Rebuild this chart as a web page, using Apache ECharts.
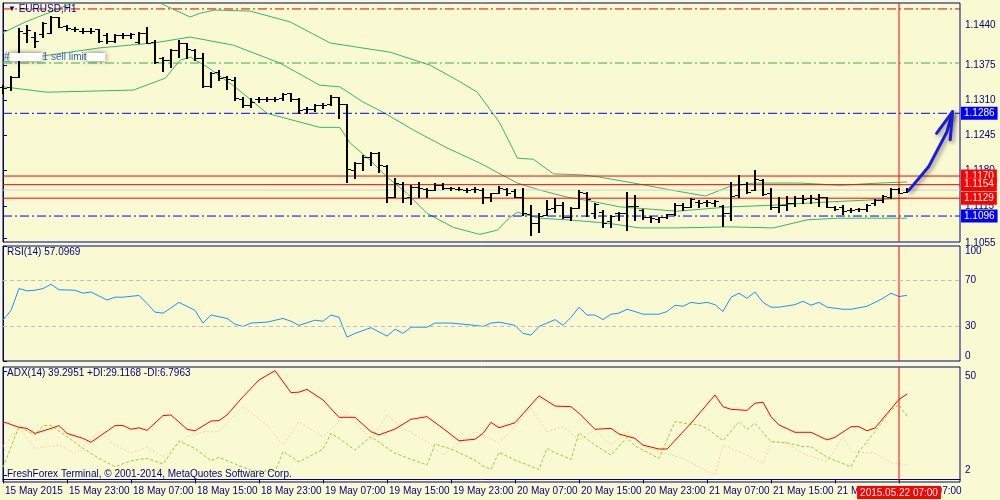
<!DOCTYPE html>
<html>
<head>
<meta charset="utf-8">
<title>EURUSD,H1</title>
<script src="https://cdn.jsdelivr.net/npm/echarts@6/dist/echarts.min.js"></script>
<style>
  html, body { margin: 0; padding: 0; background: #fafad2; }
  #chart { width: 1000px; height: 500px; }
</style>
</head>
<body>
<div id="chart"></div>
<script>
// values (H1 bars, 15 May 15:00 .. 22 May 08:00)
const xTickBars = [0, 8, 16, 24, 32, 40, 48, 56, 64, 72, 80, 88, 96, 104, 112];
const xTickLabels = ['15 May 2015', '15 May 23:00', '18 May 07:00', '18 May 15:00', '18 May 23:00',
  '19 May 07:00', '19 May 15:00', '19 May 23:00', '20 May 07:00', '20 May 15:00', '20 May 23:00',
  '21 May 07:00', '21 May 15:00', '21 May 23:00', '22 May 07:00'];
const priceTicks = [1.1440, 1.1375, 1.1310, 1.1245, 1.1180, 1.1115, 1.1055];
const rsiTicks = [0, 30, 70, 100];
const adxTicks = [2, 50];

const barOpen = [1.1335,1.1335,1.1353,1.1434,1.1427,1.1433,1.1434,1.1464,1.1447,1.1442,
  1.1438,1.1438,1.1442,1.1431,1.1420,1.1431,1.1431,1.1418,1.1434,1.1418,
  1.1388,1.1384,1.1403,1.1416,1.1403,1.1388,1.1336,1.1362,1.1353,1.1348,
  1.1312,1.1301,1.1312,1.1312,1.1313,1.1314,1.1323,1.1312,1.1294,1.1294,
  1.1301,1.1303,1.1316,1.1303,1.1181,1.1194,1.1205,1.1213,1.1188,1.1131,
  1.1155,1.1131,1.1150,1.1146,1.1144,1.1153,1.1148,1.1146,1.1144,1.1146,
  1.1144,1.1131,1.1139,1.1146,1.1142,1.1131,1.1100,1.1083,1.1098,1.1111,
  1.1116,1.1094,1.1111,1.1138,1.1101,1.1103,1.1087,1.1101,1.1101,1.1114,
  1.1107,1.1094,1.1090,1.1094,1.1100,1.1116,1.1113,1.1122,1.1122,1.1120,
  1.1114,1.1101,1.1135,1.1155,1.1144,1.1162,1.1138,1.1113,1.1116,1.1120,
  1.1129,1.1129,1.1127,1.1131,1.1113,1.1113,1.1107,1.1109,1.1109,1.1120,
  1.1126,1.1131,1.1146,1.1140];
const barHigh = [1.1338,1.1355,1.1444,1.1449,1.1436,1.1455,1.1466,1.1464,1.1449,1.1446,
  1.1444,1.1444,1.1442,1.1434,1.1433,1.1434,1.1434,1.1436,1.1446,1.1422,
  1.1390,1.1405,1.1422,1.1416,1.1405,1.1397,1.1362,1.1366,1.1355,1.1353,
  1.1316,1.1314,1.1316,1.1316,1.1316,1.1323,1.1323,1.1314,1.1298,1.1303,
  1.1305,1.1320,1.1316,1.1303,1.1196,1.1209,1.1214,1.1214,1.1190,1.1166,
  1.1159,1.1153,1.1159,1.1148,1.1157,1.1157,1.1150,1.1150,1.1148,1.1150,
  1.1148,1.1139,1.1151,1.1148,1.1146,1.1148,1.1116,1.1101,1.1126,1.1129,
  1.1122,1.1113,1.1144,1.1140,1.1120,1.1107,1.1098,1.1103,1.1140,1.1135,
  1.1109,1.1096,1.1094,1.1100,1.1120,1.1120,1.1129,1.1126,1.1126,1.1126,
  1.1116,1.1159,1.1172,1.1159,1.1181,1.1164,1.1148,1.1131,1.1133,1.1133,
  1.1135,1.1135,1.1137,1.1131,1.1114,1.1116,1.1111,1.1111,1.1118,1.1127,
  1.1135,1.1148,1.1148,1.1148];
const barLow = [1.1324,1.1329,1.1353,1.1418,1.1409,1.1427,1.1434,1.1446,1.1440,1.1438,
  1.1434,1.1434,1.1418,1.1416,1.1418,1.1425,1.1425,1.1416,1.1416,1.1379,
  1.1364,1.1372,1.1390,1.1388,1.1384,1.1335,1.1335,1.1348,1.1331,1.1311,
  1.1298,1.1298,1.1307,1.1309,1.1309,1.1310,1.1309,1.1286,1.1286,1.1290,
  1.1296,1.1301,1.1277,1.1159,1.1166,1.1181,1.1190,1.1177,1.1122,1.1131,
  1.1122,1.1118,1.1131,1.1131,1.1144,1.1146,1.1144,1.1144,1.1140,1.1140,
  1.1120,1.1124,1.1139,1.1135,1.1131,1.1098,1.1061,1.1066,1.1098,1.1103,
  1.1092,1.1089,1.1111,1.1096,1.1092,1.1076,1.1076,1.1089,1.1070,1.1089,
  1.1090,1.1085,1.1085,1.1092,1.1098,1.1107,1.1113,1.1113,1.1114,1.1114,
  1.1077,1.1089,1.1131,1.1138,1.1144,1.1135,1.1109,1.1103,1.1107,1.1114,
  1.1120,1.1120,1.1114,1.1113,1.1107,1.1100,1.1103,1.1105,1.1105,1.1116,
  1.1122,1.1129,1.1139,1.1140];
const barClose = [1.1333,1.1353,1.1438,1.1440,1.1420,1.1453,1.1464,1.1446,1.1444,1.1442,
  1.1438,1.1439,1.1420,1.1420,1.1431,1.1431,1.1433,1.1434,1.1416,1.1381,
  1.1384,1.1403,1.1416,1.1405,1.1388,1.1336,1.1360,1.1351,1.1349,1.1314,
  1.1301,1.1307,1.1312,1.1313,1.1313,1.1322,1.1312,1.1292,1.1294,1.1301,
  1.1301,1.1316,1.1303,1.1183,1.1194,1.1205,1.1213,1.1190,1.1131,1.1157,
  1.1129,1.1150,1.1148,1.1144,1.1153,1.1148,1.1148,1.1146,1.1144,1.1146,
  1.1131,1.1139,1.1148,1.1139,1.1131,1.1101,1.1083,1.1096,1.1109,1.1116,
  1.1094,1.1111,1.1140,1.1127,1.1118,1.1083,1.1096,1.1101,1.1114,1.1114,
  1.1094,1.1092,1.1094,1.1100,1.1116,1.1113,1.1127,1.1120,1.1122,1.1124,
  1.1101,1.1133,1.1155,1.1140,1.1164,1.1137,1.1113,1.1116,1.1120,1.1129,
  1.1127,1.1129,1.1131,1.1113,1.1109,1.1105,1.1107,1.1109,1.1116,1.1126,
  1.1133,1.1146,1.1139,1.1146];

// Bollinger lines, [bar, price] at the bends
const bandUpper = [[0,1.1435],[2.8,1.1455],[5.9,1.1473],[12,1.1510],[17,1.1503],[19.6,1.1490],
  [21.5,1.1477],[23.4,1.1464],[24.6,1.1471],[26.5,1.1477],[30.9,1.1475],[35.9,1.1455],
  [40.9,1.1416],[48.4,1.1399],[53.4,1.1375],[56.8,1.1347],[59.3,1.1325],[62.1,1.1268],
  [63.6,1.1224],[64.3,1.1203],[66.3,1.1201],[68.8,1.1174],[72.5,1.1172],[74.6,1.1168],
  [79.6,1.1155],[84.3,1.1142],[87.8,1.1133],[90.9,1.1151],[93.8,1.1157],[99.6,1.1157],
  [104.6,1.1153],[109.6,1.1157],[113,1.1159]];
const bandMiddle = [[0,1.1381],[5.9,1.1394],[12.1,1.1407],[18.8,1.1416],[23.4,1.1427],
  [28.8,1.1412],[34.6,1.1379],[39.6,1.1338],[42.1,1.1335],[45,1.1307],[47.5,1.1288],
  [51.3,1.1255],[55.5,1.1222],[59.6,1.1194],[64.3,1.1157],[67.1,1.1144],[70.5,1.1131],
  [73,1.1125],[77.1,1.1113],[84.3,1.1105],[90.9,1.1113],[96.3,1.1116],[103,1.1122],
  [108.8,1.1126],[113,1.1129]];
const bandLower = [[0,1.1335],[5.5,1.1325],[16.3,1.1329],[20.3,1.1351],[22.1,1.1384],
  [23.4,1.1390],[25.5,1.1372],[29,1.1335],[33,1.1286],[39.6,1.1260],[42.1,1.1260],
  [43.4,1.1231],[45.9,1.1199],[48,1.1168],[50.5,1.1138],[53,1.1101],[56.3,1.1075],
  [59.6,1.1062],[61.8,1.1070],[63.4,1.1094],[64.3,1.1103],[67.1,1.1092],[70.5,1.1089],
  [75.5,1.1083],[79.6,1.1074],[83.8,1.1074],[90.9,1.1076],[96.3,1.1074],[100.5,1.1089],
  [104.3,1.1092],[113,1.1092]];

// order / level lines on the price panel
const levelStop = 1.1479;
const levelSellLimit = 1.1379;
const levelBlue = [1.1286, 1.1096];
const levelRed = [1.1170, 1.1154, 1.1129];
const levelBid = 1.1144;
const markerBar = 112;
const markerText = '2015.05.22 07:00';

// hand drawn arrow
const arrowShaft = [[113.2,1.1143],[115.7,1.1187],[118,1.1252],[118.7,1.1289]];
const arrowHead = [[116.7,1.1249],[118.7,1.1289],[118.4,1.1237]];

const rsiPoints = [[0,35.5],[1,44],[2,63],[3,61],[4,61.5],[5,63],[6,66.7],[7,62],[9,61.5],[10,59],
  [11,60],[13,53],[14,55.5],[15,55.5],[17,57],[18,50],[19,42.5],[20,41.6],[22,51],[24,44],
  [25,33],[26,40],[28,37],[29,32],[30,30],[31,33],[33,33.8],[35,37],[36,34.6],[37,31],
  [39,35.5],[40,34.6],[41,40],[42,38],[43,20.8],[44,24],[46,29],[48,21.6],[49,27.7],[50,24],
  [51,29.4],[53,29.4],[54,33],[56,33],[59,31],[60,30],[61,33],[62,33.8],[64,31],[65,24],
  [66,22.5],[67,30],[69,36],[70,31],[71,38],[72,46.8],[73,40],[74,40],[75,36],[76,40.7],
  [77,41.6],[78,45],[79,43],[80,40.7],[82,40.7],[83,43],[84,48.5],[85,47.6],[86,51],[87,50],
  [88,51],[89,49],[90,43],[91,55.4],[92,59],[93,54.5],[94,60],[95,51],[96,46.8],[97,46.8],
  [99,49],[100,52],[101,48.5],[102,51],[103,46.8],[105,45],[106,45],[108,47.6],[109,51],
  [110,54.5],[111,59],[112,56],[113,57.1]];

const adxMain = [[0,26.6],[2,24.0],[3,23.5],[4,21.2],[6,23.5],[7,24.8],[8,21.2],[10,18.9],[11,17.1],
  [14,24.8],[15,24.8],[16,23.1],[17,23.8],[18,22.6],[20,29.4],[21,29.7],[23,23.1],[24,22.4],
  [26,26.9],[27,27.1],[28,29.7],[30,38.1],[32,45.8],[34,50.1],[36,40.0],[37,40.2],[38,41.5],
  [40,36.6],[42,28.6],[44,28.6],[46,22.0],[47,20.5],[49,23.2],[51,27.7],[53,28.9],[55,23.5],
  [57,17.8],[59,18.5],[60,21.2],[61,26.3],[62,23.8],[64,26.1],[67,38.5],[69,33.8],[71,33.5],
  [72,30.5],[74,23.1],[76,23.5],[77,20.9],[79,18.9],[80,15.8],[82,14.0],[83,14.0],[86,25.9],
  [89,38.9],[90,33.5],[91,32.3],[93,31.8],[94,35.1],[95,35.6],[96,28.9],[97,25.1],[99,21.7],
  [101,21.7],[103,18.2],[104,19.4],[106,24.3],[107,24.3],[108,22.4],[109,23.7],[112,36.9],[113,39.3]];
const plusDI = [[0,5.6],[2,24.3],[4,20.5],[5,24.8],[6,24.8],[8,19.7],[10,14.3],[12,9.7],[14,5.8],
  [16,8.6],[18,9.7],[20,7.1],[22,17.7],[24,14.3],[26,8.6],[27,10.2],[30,5.6],[31,4.3],[34,3.5],
  [35,12.8],[37,8.1],[40,13.9],[41,21.2],[42,18.9],[44,13.5],[46,19.7],[49,12.0],[53,6.6],
  [54,16.3],[56,14.0],[59,8.9],[60,6.2],[61,4.6],[62,12.5],[64,8.9],[67,4.6],[68,14.3],[69,12.3],
  [71,9.2],[72,21.5],[74,15.8],[76,11.2],[78,19.4],[79,15.4],[82,9.7],[84,26.6],[86,25.4],
  [87,25.1],[88,23.5],[90,17.8],[92,26.6],[93,23.1],[94,25.8],[96,17.4],[98,16.9],[100,15.1],
  [101,15.1],[103,10.2],[106,5.8],[107,12.8],[109,22.0],[111,32.0],[112,34.3],[113,29.1]];
const minusDI = [[0,15.1],[2,23.7],[4,14.3],[7,15.8],[9,12.0],[12,22.0],[14,15.8],[16,12.0],[18,14.8],
  [20,10.4],[23,19.7],[25,22.0],[27,22.0],[30,33.5],[33,25.1],[35,15.8],[37,26.6],[40,19.7],
  [43,30.5],[46,18.2],[48,29.7],[50,23.5],[53,17.4],[55,11.2],[57,16.6],[59,22.0],[62,17.0],
  [64,24.3],[66,32.8],[68,22.0],[70,24.3],[72,18.2],[74,22.8],[76,15.8],[78,22.0],[80,15.1],
  [85,9.7],[89,2.0],[90,15.8],[93,11.2],[95,7.4],[96,17.4],[98,16.6],[100,12.0],[103,8.1],
  [105,19.7],[106,12.8],[109,12.0],[111,7.7],[113,6.8]];

const FONT = 'Liberation Sans, Arial, sans-serif';
const NAVY = '#000080';
const BARS_MAX = 119.625;
const PRICE_MIN = 1.1048, PRICE_MAX = 1.1490;
const ADX_MIN = -1.2, ADX_MAX = 51.8;
const HIDDEN = 'rgba(0,0,0,0)';

const chart = echarts.init(document.getElementById('chart'));

// MT4 style OHLC bar: high-low stick, open tick left, close tick right
function renderBar(params, api) {
  const i = api.value(0);
  const hi = api.coord([i, api.value(2)]);
  const lo = api.coord([i, api.value(3)]);
  const yo = Math.round(api.coord([i, api.value(1)])[1]) + 0.5;
  const yc = Math.round(api.coord([i, api.value(4)])[1]) + 0.5;
  const x = Math.round(hi[0]);
  const stick = { stroke: '#000', lineWidth: 2 };
  const tick = { stroke: '#000', lineWidth: 1 };
  return {
    type: 'group',
    children: [
      { type: 'line', shape: { x1: x, y1: Math.round(hi[1]), x2: x, y2: Math.round(lo[1]) + 1 }, style: stick },
      { type: 'line', shape: { x1: x - 4, y1: yo, x2: x, y2: yo }, style: tick },
      { type: 'line', shape: { x1: x, y1: yc, x2: x + 4, y2: yc }, style: tick }
    ]
  };
}

const dashDot = [9, 3, 2, 3];
const lineBase = { type: 'line', symbol: 'none', silent: true, animation: false };

// horizontal level drawn across the price panel, optional price box on the axis
function levelLine(value, color, dash, boxColor) {
  const s = Object.assign({}, lineBase, {
    xAxisIndex: 0, yAxisIndex: 0, z: 4,
    data: [[0, value], [BARS_MAX, value]],
    lineStyle: { color: color, width: 1, type: dash }
  });
  if (boxColor) {
    s.endLabel = {
      show: true, distance: 1,
      formatter: value.toFixed(4),
      backgroundColor: boxColor, color: '#fff', fontSize: 10, fontFamily: FONT,
      padding: [2, 3, 1, 3]
    };
  }
  return s;
}

// red vertical marker through one panel
function markerLine(gi, lo, hi) {
  return Object.assign({}, lineBase, {
    xAxisIndex: gi, yAxisIndex: gi, z: 4,
    data: [[markerBar, lo], [markerBar, hi]],
    lineStyle: { color: '#ff0000', width: 1 }
  });
}

const grid = (top, height) => ({
  left: 3, right: 40, top: top, height: height,
  show: true, borderColor: NAVY, borderWidth: 1, backgroundColor: 'transparent'
});

const xAxisFor = (gi, visible) => ({
  type: 'value', gridIndex: gi, min: 0, max: BARS_MAX,
  show: visible,
  splitLine: { show: false },
  axisLine: { show: true, lineStyle: { color: NAVY } },
  axisTick: { show: true, length: 4, lineStyle: { color: NAVY }, customValues: xTickBars },
  axisLabel: {
    customValues: xTickBars,
    formatter: (v) => xTickLabels[xTickBars.indexOf(v)] || '',
    align: 'left', padding: [0, 0, 0, 2], margin: 4,
    color: NAVY, fontSize: 10, fontFamily: FONT
  }
});

const yAxisFor = (gi, min, max, ticks, fmt) => ({
  type: 'value', gridIndex: gi, position: 'right', min: min, max: max,
  splitLine: { show: false },
  axisLine: { show: true, lineStyle: { color: NAVY } },
  axisTick: { show: true, length: 4, lineStyle: { color: NAVY }, customValues: ticks },
  axisLabel: {
    customValues: ticks, formatter: fmt, margin: 5,
    color: NAVY, fontSize: 10, fontFamily: FONT,
    verticalAlignMaxLabel: 'top', verticalAlignMinLabel: 'bottom'
  }
});

const titleStyle = { fontSize: 10, color: NAVY, fontWeight: 'normal', fontFamily: FONT };
const blurBox = (w) => ({ width: w, height: 8, backgroundColor: '#fff', shadowBlur: 5, shadowColor: 'rgba(0,0,0,0.55)' });

const option = {
  backgroundColor: '#fafad2',
  animation: false,
  textStyle: { fontFamily: FONT },
  title: [
    { text: '{t|▼} EURUSD,H1', left: 8, top: 4, padding: 0,
      textStyle: Object.assign({}, titleStyle, { rich: { t: { fontSize: 8, color: NAVY } } }) },
    { text: 'RSI(14) 57.0969', left: 7, top: 247, padding: 0, textStyle: titleStyle },
    { text: 'ADX(14) 39.2951 +DI:29.1168 -DI:6.7963', left: 7, top: 368, padding: 0, textStyle: titleStyle },
    { text: 'FreshForex Terminal, © 2001-2014, MetaQuotes Software Corp.', left: 7, top: 469, padding: 0, textStyle: titleStyle }
  ],
  grid: [grid(3, 239), grid(246, 115), grid(367, 115)],
  xAxis: [xAxisFor(0, false), xAxisFor(1, false), xAxisFor(2, true)],
  yAxis: [
    yAxisFor(0, PRICE_MIN, PRICE_MAX, priceTicks, (v) => v.toFixed(4)),
    yAxisFor(1, 0, 100, rsiTicks, (v) => String(v)),
    yAxisFor(2, ADX_MIN, ADX_MAX, adxTicks, (v) => String(v))
  ],
  series: [
    Object.assign({}, lineBase, { name: 'BB upper', xAxisIndex: 0, yAxisIndex: 0, data: bandUpper, lineStyle: { color: '#3cb371', width: 1 } }),
    Object.assign({}, lineBase, { name: 'BB middle', xAxisIndex: 0, yAxisIndex: 0, data: bandMiddle, lineStyle: { color: '#3cb371', width: 1 } }),
    Object.assign({}, lineBase, { name: 'BB lower', xAxisIndex: 0, yAxisIndex: 0, data: bandLower, lineStyle: { color: '#3cb371', width: 1 } }),
    levelLine(levelStop, '#e00000', dashDot),
    Object.assign(levelLine(levelSellLimit, '#32b450', dashDot), {
      // order label sits over the start of the sell limit line
      markLine: {
        silent: true, symbol: ['none', 'none'], animation: false, precision: 4,
        emphasis: { disabled: true },
        lineStyle: { color: HIDDEN },
        data: [{
          yAxis: levelSellLimit,
          label: {
            show: true, position: 'insideStartTop', distance: 1,
            formatter: '#{b1|}1 sell limit{b2|}',
            color: '#3a5fd0', fontSize: 10, fontFamily: FONT,
            rich: { b1: blurBox(33), b2: blurBox(19) }
          }
        }]
      }
    }),
    levelLine(levelBid, '#d4d4d4', 'solid'),
    ...levelBlue.map(v => levelLine(v, '#0000ff', dashDot, '#0000ff')),
    ...levelRed.map(v => levelLine(v, '#ff0000', 'solid', '#ff0000')),
    markerLine(0, PRICE_MIN, PRICE_MAX),
    {
      type: 'custom', name: 'EURUSD', xAxisIndex: 0, yAxisIndex: 0,
      renderItem: renderBar, silent: true, z: 5,
      encode: { x: 0, y: [1, 2, 3, 4] },
      data: barOpen.map((o, i) => [i, o, barHigh[i], barLow[i], barClose[i]])
    },
    Object.assign({}, lineBase, {
      name: 'arrow', xAxisIndex: 0, yAxisIndex: 0, data: arrowShaft, z: 6,
      lineStyle: { color: '#1a1ae0', width: 3, cap: 'round', join: 'round',
        shadowColor: 'rgba(0,0,0,0.45)', shadowBlur: 4, shadowOffsetX: 2, shadowOffsetY: 2 }
    }),
    Object.assign({}, lineBase, {
      name: 'arrow head', xAxisIndex: 0, yAxisIndex: 0, data: arrowHead, z: 6,
      lineStyle: { color: '#1a1ae0', width: 3, cap: 'round', join: 'round',
        shadowColor: 'rgba(0,0,0,0.45)', shadowBlur: 4, shadowOffsetX: 2, shadowOffsetY: 2 }
    }),
    Object.assign({}, lineBase, {
      name: 'RSI(14)', xAxisIndex: 1, yAxisIndex: 1, data: rsiPoints,
      lineStyle: { color: '#1e90ff', width: 1 },
      markLine: {
        silent: true, symbol: ['none', 'none'], animation: false,
        label: { show: false }, emphasis: { disabled: true },
        lineStyle: { color: '#c0c0c0', type: [4, 3], width: 1 },
        data: [{ yAxis: 70 }, { yAxis: 30 }]
      }
    }),
    markerLine(1, 0, 100),
    Object.assign({}, lineBase, {
      name: '-DI', xAxisIndex: 2, yAxisIndex: 2, data: minusDI,
      lineStyle: { color: '#f3cfae', width: 1, type: [2, 2] }
    }),
    Object.assign({}, lineBase, {
      name: '+DI', xAxisIndex: 2, yAxisIndex: 2, data: plusDI,
      lineStyle: { color: '#9acd32', width: 1, type: [3, 2] }
    }),
    Object.assign(markerLine(2, ADX_MIN, ADX_MAX), {
      // time box under the marker, on the time axis
      markLine: {
        silent: true, symbol: ['none', 'none'], animation: false, emphasis: { disabled: true },
        lineStyle: { color: HIDDEN },
        data: [{
          xAxis: markerBar,
          label: {
            show: true, position: 'start', distance: 4,
            formatter: markerText,
            backgroundColor: '#ff0000', color: '#fff', fontSize: 10, fontFamily: FONT,
            padding: [2, 3, 1, 3]
          }
        }]
      }
    }),
    Object.assign({}, lineBase, {
      name: 'ADX(14)', xAxisIndex: 2, yAxisIndex: 2, data: adxMain, z: 5,
      lineStyle: { color: '#ff0000', width: 1 }
    })
  ]
};

chart.setOption(option);
</script>
</body>
</html>
